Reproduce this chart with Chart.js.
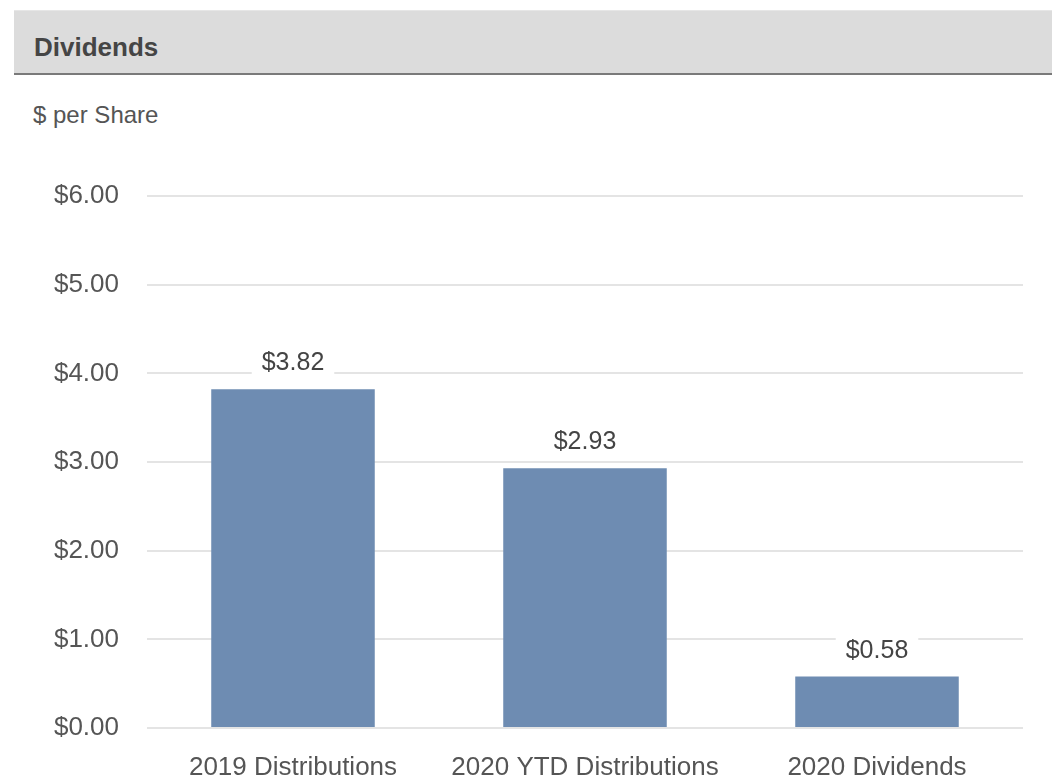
<!DOCTYPE html>
<html>
<head>
<meta charset="utf-8">
<script src="https://cdn.jsdelivr.net/npm/chart.js@4.4.1/dist/chart.umd.min.js"></script>
<style>
    html, body { margin: 0; padding: 0; background: #fff; }
    body { width: 1052px; height: 779px; position: relative; overflow: hidden; font-family: "Liberation Sans", Arial, sans-serif; }
    .cabecalho {
        position: absolute; left: 14px; top: 10px; right: 0; height: 65px;
        background: #dcdcdc; border-top: 1px solid #e6e6e6; border-bottom: 2px solid #7a7a7a;
        box-sizing: border-box;
    }
    .cabecalho span {
        position: absolute; left: 20px; top: 21px;
        font-size: 26px; font-weight: bold; color: #454545;
    }
    .unidade {
        position: absolute; left: 33px; top: 101px;
        font-size: 24px; color: #555;
    }
    #grafico { position: absolute; left: 0; top: 0; }
</style>
</head>
<body>
<div class="cabecalho"><span>Dividends</span></div>
<div class="unidade">$ per Share</div>
<canvas id="grafico" width="1052" height="779"></canvas>
<script>
const categorias = ['2019 Distributions', '2020 YTD Distributions', '2020 Dividends'];
const valores    = [3.82, 2.93, 0.58];
const ticksY     = [0, 1, 2, 3, 4, 5, 6];

const corBarra  = '#6e8cb2';
const corTexto  = '#555555';
const fonte     = '"Liberation Sans", Arial, sans-serif';

const formatMoeda = v => '$' + Number(v).toFixed(2);

// rotulo de valor acima de cada barra, com fundo branco cobrindo a grade
const rotulosValor = {
    id: 'rotulosValor',
    afterDatasetsDraw(chart) {
        const ctx = chart.ctx;
        const meta = chart.getDatasetMeta(0);
        ctx.save();
        ctx.font = '25px ' + fonte;
        ctx.textAlign = 'center';
        ctx.textBaseline = 'alphabetic';
        meta.data.forEach((bar, i) => {
            const txt = formatMoeda(valores[i]);
            const w = ctx.measureText(txt).width;
            const yBase = bar.y - 19;
            ctx.fillStyle = '#fff';
            ctx.fillRect(bar.x - w / 2 - 10, yBase - 24, w + 20, 30);
            ctx.fillStyle = '#444';
            ctx.fillText(txt, bar.x, yBase);
        });
        ctx.restore();
    }
};

new Chart(document.getElementById('grafico'), {
    type: 'bar',
    data: {
        labels: categorias,
        datasets: [{
            data: valores,
            backgroundColor: corBarra,
            borderWidth: 0,
            categoryPercentage: 1,
            barPercentage: 0.56,
        }]
    },
    options: {
        responsive: false,
        animation: false,
        layout: { padding: { left: 0, right: 29, top: 196, bottom: 0 } },
        plugins: {
            legend: { display: false },
            tooltip: { enabled: false }
        },
        scales: {
            y: {
                min: 0,
                max: 6,
                afterBuildTicks: axis => { axis.ticks = ticksY.map(v => ({ value: v })); },
                afterFit: axis => { axis.width = 147; },
                border: { display: false },
                grid: { color: '#e4e4e4', lineWidth: 2, drawTicks: false },
                ticks: {
                    padding: 28,
                    color: corTexto,
                    font: { family: fonte, size: 26 },
                    callback: v => formatMoeda(v)
                }
            },
            x: {
                afterFit: axis => { axis.height = 51; },
                border: { display: false },
                grid: { display: false, drawTicks: false },
                ticks: {
                    padding: 24,
                    color: corTexto,
                    maxRotation: 0,
                    font: { family: fonte, size: 26 }
                }
            }
        }
    },
    plugins: [rotulosValor]
});
</script>
</body>
</html>
